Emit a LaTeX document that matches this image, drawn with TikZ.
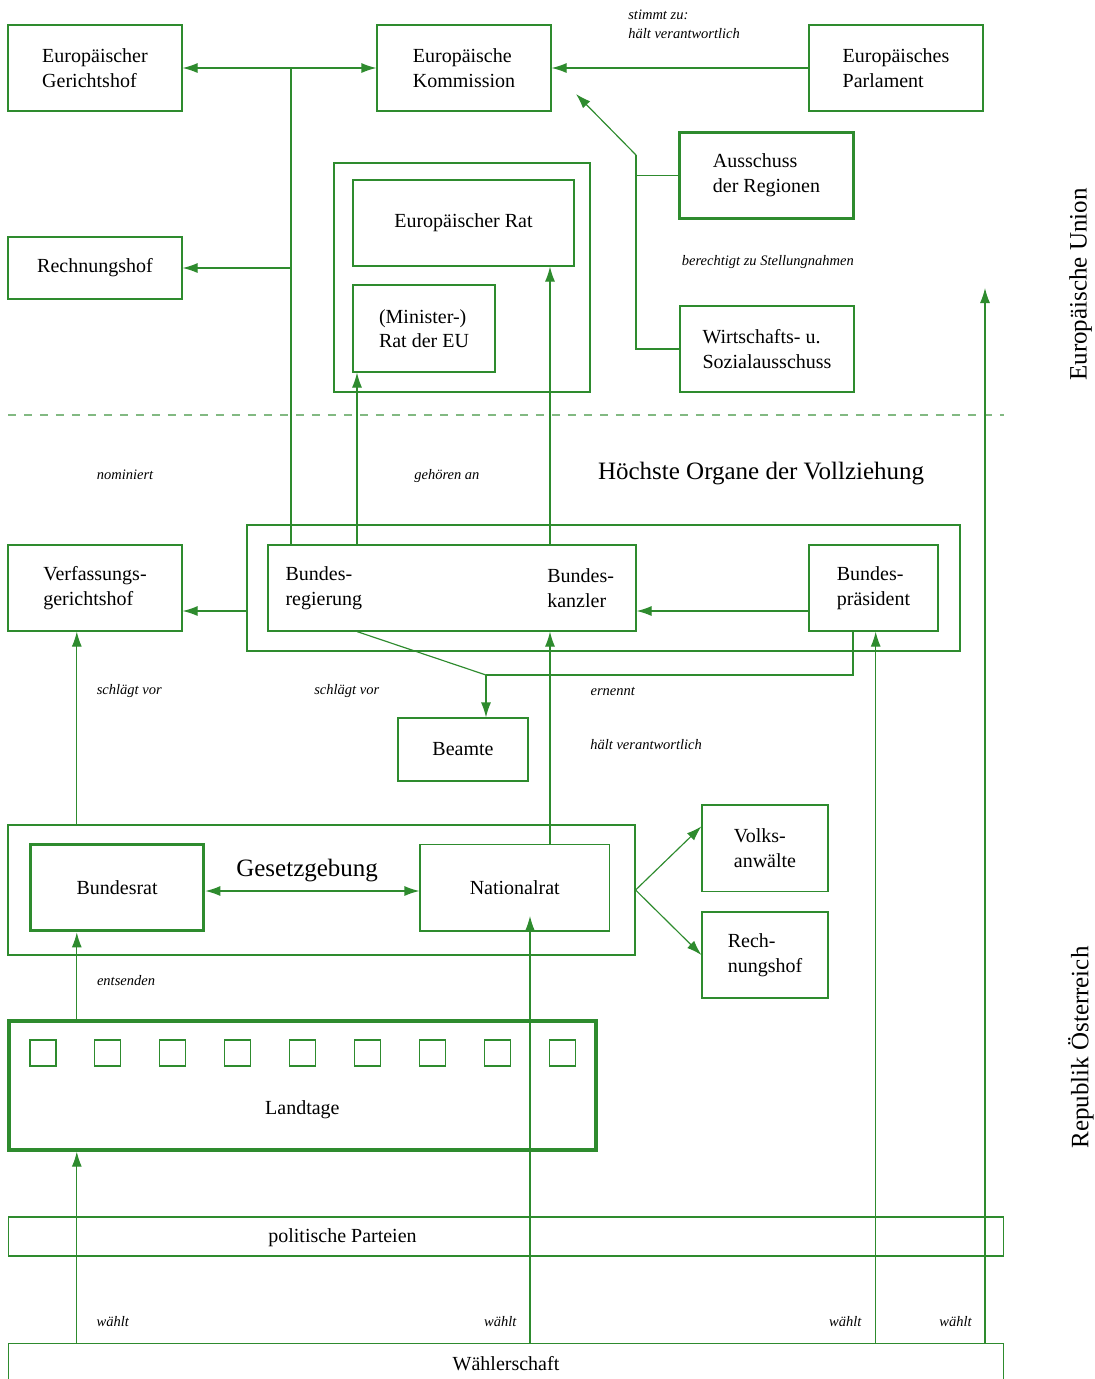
\documentclass[tikz,border=0pt]{standalone}
\usepackage{fontspec}
\setmainfont{Liberation Serif}
\usetikzlibrary{arrows.meta,calc}
\definecolor{orggreen}{RGB}{46,139,46}
\def\organfont{\fontsize{12}{14.8}\selectfont}
\def\remarkfont{\fontsize{8.7}{11.4}\selectfont\itshape}
\def\orgheadfont{\fontsize{15}{18}\selectfont}
\tikzset{
	organ/.style={draw=orggreen, line width=0.7pt, inner sep=0pt, align=left, font=\organfont},
	organthick/.style={organ, line width=2pt},
	wh/.style 2 args={minimum width=#1*0.6pt, minimum height=#2*0.6pt},
	plain/.style={inner sep=0pt, align=left, font=\organfont},
	remark/.style={inner sep=0pt, font=\remarkfont},
	heading/.style={inner sep=0pt, font=\orgheadfont},
	conn/.style={draw=orggreen, line width=0.7pt},
	arr/.style={conn, -{Latex[length=9pt,width=6pt]}},
	darr/.style={conn, {Latex[length=9pt,width=6pt]}-{Latex[length=9pt,width=6pt]}},
}

\begin{document}
\begin{tikzpicture}[x=0.6pt, y=-0.6pt]
				%%%%% START %%%%%
				\useasboundingbox (0,0) rectangle (1095,1379);
				
				% Europaeische Union
				\node[organ, wh={174}{86}] (egh) at (95,68) {Europäischer\\Gerichtshof};
				\node[organ, wh={174}{86}] (ek) at (464,68) {Europäische\\Kommission};
				\node[organ, wh={174}{86}] (ep) at (896,68) {Europäisches\\Parlament};
				\node[organthick, wh={174}{86}] (adr) at (766.5,175.5) {Ausschuss\\der Regionen};
				\node[organ, wh={174}{86}] (wsa) at (767,349) {Wirtschafts- u.\\Sozialausschuss};
				\node[organ, wh={174}{62}] (rhofeu) at (95,268) {Rechnungshof};
				\node[organ, wh={256}{229}] (eurgrp) at (462,277.5) {};
				\node[organ, wh={221}{86}] (eurat) at (463.5,223) {Europäischer Rat};
				\node[organ, wh={142}{87}] (minrat) at (424,328.5) {(Minister-)\\Rat der EU};
				
				\node[remark, anchor=west, align=left] (lbstimmt) at (628,24.5) {stimmt zu:\\hält verantwortlich};
				\node[remark, anchor=base west] (lbberecht) at (681.6,265.7) {berechtigt zu Stellungnahmen};
				
				\coordinate (eujunc) at (291,68);
				\coordinate (advjunc) at (636,155);
				\coordinate (ektip) at (576,94);
				
				\draw[darr] (egh.east) -- (ek.west);
				\draw[conn] (eujunc) -- (eujunc |- rhofeu.east);
				\draw[arr] (eujunc |- rhofeu.east) -- (rhofeu.east);
				\draw[arr] (ep.west) -- (ek.east);
				\draw[conn] (wsa.west) -- (wsa.west -| advjunc) -- (advjunc);
				\draw[conn] (adr.west) -- (adr.west -| advjunc);
				\draw[arr] (advjunc) -- (ektip);
				
				% Grenze
				\coordinate (eul) at (8,415);
				\coordinate (eur) at (1004,415);
				\draw[draw=orggreen!60, line width=1pt, dash pattern=on 4.8pt off 4.8pt] (eul) -- (eur);
				
				\node[heading, rotate=90] (lbeu) at (1080.5,284.5) {Europäische Union};
				\node[heading, rotate=90] (lbat) at (1081,1047.5) {Republik Österreich};
				
				% Vollziehung
				\node[heading, anchor=base west] (lbvollz) at (597.7,479) {Höchste Organe der Vollziehung};
				\node[remark, anchor=base west] (lbnomin) at (96.5,479) {nominiert};
				\node[remark, anchor=base west] (lbgehoer) at (414,479) {gehören an};
				
				\node[organ, wh={713}{126}] (vollz) at (603.5,588) {};
				\node[organ, wh={368}{86}] (bureg) at (452,588) {};
				\node[plain, anchor=west] (buregtxt) at (285.2,588) {Bundes-\\regierung};
				\node[plain, anchor=west] (bukanz) at (547,588) {Bundes-\\kanzler};
				\node[organ, wh={129}{86}] (bupraes) at (873.5,588) {Bundes-\\präsident};
				\node[organ, wh={174}{86}] (vfgh) at (95,588) {Verfassungs-\\gerichtshof};
				\node[organ, wh={130}{63}] (beamte) at (463,749.5) {Beamte};
				
				\node[remark, anchor=base west] (lbschlag1) at (96.5,694) {schlägt vor};
				\node[remark, anchor=base west] (lbschlag2) at (314,694) {schlägt vor};
				\node[remark, anchor=base west] (lbernennt) at (590.3,695) {ernennt};
				\node[remark, anchor=base west] (lbhaelt) at (590,749) {hält verantwortlich};
				
				\coordinate (mins) at (357,0);
				\coordinate (kanz) at (550,0);
				\coordinate (lowrow) at (0,611);
				\coordinate (bpdown) at (853,0);
				\coordinate (beamjunc) at (486,675);
				
				\draw[conn] (eujunc) -- (eujunc |- bureg.north);
				\draw[arr] (mins |- bureg.north) -- (mins |- minrat.south);
				\draw[arr] (kanz |- bureg.north) -- (kanz |- eurat.south);
				\draw[arr] (bupraes.west |- lowrow) -- (bureg.east |- lowrow);
				\draw[arr] (vollz.west |- lowrow) -- (vfgh.east |- lowrow);
				\draw[conn] (mins |- bureg.south) -- (beamjunc);
				\draw[conn] (bpdown |- bupraes.south) |- (beamjunc);
				\draw[arr] (beamjunc) -- (beamjunc |- beamte.north);
				
				% Gesetzgebung
				\node[organ, wh={627}{130}] (gesetz) at (321.5,890) {};
				\node[organthick, wh={173.2}{86.2}] (bundesrat) at (117.1,887.6) {Bundesrat};
				\node[organ, wh={189.5}{86.5}] (natrat) at (514.75,887.75) {Nationalrat};
				\node[heading, anchor=base west] (lbgesetz) at (236,876.7) {Gesetzgebung};
				\node[organ, wh={126}{86.5}] (volks) at (765,848.25) {Volks-\\anwälte};
				\node[organ, wh={126}{86}] (rhofat) at (765,955) {Rech-\\nungshof};
				\node[remark, anchor=base west] (lbentsend) at (96.7,985.7) {entsenden};
				
				\coordinate (vfx) at (76.8,0);
				\coordinate (gesrow) at (0,891);
				
				\draw[arr] (vfx |- gesetz.north) -- (vfx |- vfgh.south);
				\draw[arr] (kanz |- natrat.north) -- (kanz |- bureg.south);
				\draw[darr] (bundesrat.east |- gesrow) -- (natrat.west |- gesrow);
				\draw[arr] (gesetz.east) -- ($(volks.north west)!0.25!(volks.south west)$);
				\draw[arr] (gesetz.east) -- (rhofat.west);
				
				% Landtage
				\node[organthick, wh={587}{129}] (landtage) at (302.5,1085.5) {};
				\foreach \i in {0,...,8}
					\node[organ, minimum size=15.6pt] (land\i) at (43+64.9*\i,1053) {};
				\node[plain] (landtxt) at (302.4,1110) {Landtage};
				\draw[arr] (vfx |- landtage.north) -- (vfx |- bundesrat.south);
				
				% Parteien und Waehlerschaft
				\node[organ, wh={995}{39}] (parteien) at (506,1236.5) {};
				\node[plain] (parttxt) at (342.5,1238) {politische Parteien};
				\node[organ, wh={995}{40.7}] (waehler) at (506,1363.6) {Wählerschaft};
				
				\coordinate (nrx) at (530,0);
				\coordinate (bpx) at (875.7,0);
				\coordinate (eux) at (985,0);
				\coordinate (nrtip) at (530,916);
				\coordinate (eutip) at (985,288);
				
				\draw[arr] (vfx |- waehler.north) -- (vfx |- landtage.south);
				\draw[arr] (nrx |- waehler.north) -- (nrtip);
				\draw[arr] (bpx |- waehler.north) -- (bpx |- bupraes.south);
				\draw[arr] (eux |- waehler.north) -- (eutip);
				
				\node[remark, anchor=base west] (lbwaehlt1) at (96.4,1326.7) {wählt};
				\node[remark, anchor=base east] (lbwaehlt2) at (516.8,1326.7) {wählt};
				\node[remark, anchor=base east] (lbwaehlt3) at (861.7,1326.7) {wählt};
				\node[remark, anchor=base east] (lbwaehlt4) at (972,1326.7) {wählt};
				%%%%% END %%%%%
\end{tikzpicture}
\end{document}
